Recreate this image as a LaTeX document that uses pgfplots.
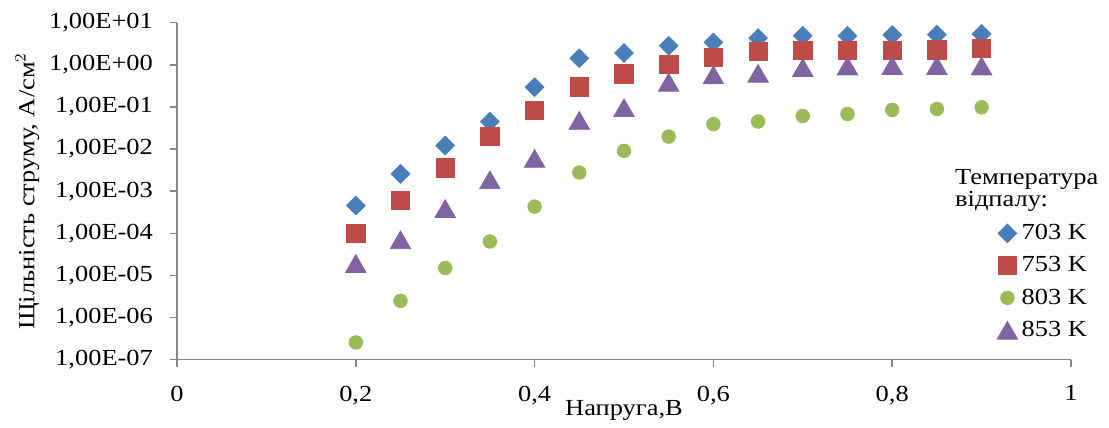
\documentclass[border=0pt]{standalone}
\usepackage{fontspec}
\setmainfont{Liberation Serif}[FakeStretch=1.15]
\usepackage{pgfplots}
\pgfplotsset{compat=1.18}

\definecolor{c703}{RGB}{74,126,187}
\definecolor{c753}{RGB}{190,75,72}
\definecolor{c803}{RGB}{155,187,89}
\definecolor{c853}{RGB}{128,100,162}
\definecolor{axgray}{RGB}{134,134,134}
\newcommand\chartfont{\fontsize{11.5}{13}\selectfont}

\begin{document}
\begin{tikzpicture}
\begin{axis}[
    scale only axis,
    width=447pt, height=168.5pt,
    clip=false,
    xmin=0, xmax=1,
    ymode=log, ymin=1e-7, ymax=10,
    axis lines=left,
    axis line style={-, draw=axgray, line width=0.8pt},
    tick style={draw=axgray, line width=0.8pt},
    tick align=outside, major tick length=3.5pt,
    xminorticks=false, yminorticks=false,
    xtick={0,0.2,0.4,0.6,0.8,1},
    xticklabels={0,{0,2},{0,4},{0,6},{0,8},1},
    ytick={1e-7,1e-6,1e-5,1e-4,1e-3,1e-2,1e-1,1,10},
    yticklabels={{1,00E-07},{1,00E-06},{1,00E-05},{1,00E-04},{1,00E-03},{1,00E-02},{1,00E-01},{1,00E+00},{1,00E+01}},
    ticklabel style={font=\chartfont},
    yticklabel style={xshift=-5pt},
    xticklabel style={yshift=-6pt},
    xlabel={Напруга,В},
    xlabel style={font=\chartfont, yshift=9pt},
    ylabel={Щільність струму, А/см$^2$},
    ylabel style={font=\chartfont, yshift=-2pt},
    legend style={draw=none, fill=none, at={(0.917,0.415)}, anchor=north west,
        font=\chartfont, row sep=3pt, inner sep=0pt},
    legend cell align=left,
    legend image code/.code={\draw[mark repeat=2,mark phase=2,#1]
        plot coordinates {(0pt,0pt)(5pt,0pt)(10pt,0pt)};},
]
\addplot[only marks, mark=square*, mark size=3.3pt,
    mark options={rotate=45, fill=c703, draw=c703}] coordinates {
    (0.20,4.56e-4) (0.25,2.58e-3) (0.30,1.21e-2) (0.35,4.49e-2)
    (0.40,0.294) (0.45,1.43) (0.50,1.9) (0.55,2.84) (0.60,3.4)
    (0.65,4.3) (0.70,4.9) (0.75,4.9) (0.80,5.1) (0.85,5.2) (0.90,5.4)
};
\addlegendentry{703 K}
\addplot[only marks, mark=square*, mark size=4.6pt,
    mark options={fill=c753, draw=c753}] coordinates {
    (0.20,1.01e-4) (0.25,6.0e-4) (0.30,3.58e-3) (0.35,1.98e-2)
    (0.40,8.18e-2) (0.45,0.30) (0.50,0.61) (0.55,1.03) (0.60,1.51)
    (0.65,2.05) (0.70,2.17) (0.75,2.17) (0.80,2.17) (0.85,2.25) (0.90,2.47)
};
\addlegendentry{753 K}
\addplot[only marks, mark=*, mark size=3.4pt,
    mark options={fill=c803, draw=c803}] coordinates {
    (0.20,2.57e-7) (0.25,2.5e-6) (0.30,1.5e-5) (0.35,6.4e-5)
    (0.40,4.3e-4) (0.45,2.77e-3) (0.50,9.06e-3) (0.55,1.98e-2) (0.60,3.9e-2)
    (0.65,4.5e-2) (0.70,6.1e-2) (0.75,6.8e-2) (0.80,8.5e-2) (0.85,8.97e-2) (0.90,9.8e-2)
};
\addlegendentry{803 K}
\addplot[only marks, mark=triangle*, mark size=5.9pt,
    mark options={fill=c853, draw=c853, yshift=-1.5pt}] coordinates {
    (0.20,1.92e-5) (0.25,7.0e-5) (0.30,3.87e-4) (0.35,1.86e-3)
    (0.40,6.0e-3) (0.45,0.048) (0.50,0.096) (0.55,0.385) (0.60,0.575)
    (0.65,0.63) (0.70,0.86) (0.75,0.94) (0.80,0.955) (0.85,0.955) (0.90,0.94)
};
\addlegendentry{853 K}
\node[anchor=base west, font=\chartfont, inner sep=0pt] at (rel axis cs:0.870,0.519) {Температура};
\node[anchor=base west, font=\chartfont, inner sep=0pt] at (rel axis cs:0.870,0.454) {відпалу:};
\end{axis}
\path ([xshift=-88.5pt,yshift=-31pt]current axis.south west)
    rectangle ([xshift=19pt,yshift=11.35pt]current axis.north east);
\end{tikzpicture}
\end{document}
